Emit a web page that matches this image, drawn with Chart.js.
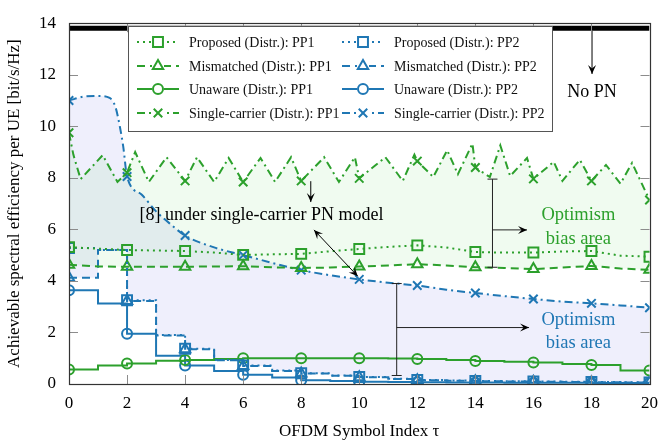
<!DOCTYPE html>
<html>
<head>
<meta charset="utf-8">
<script src="https://cdn.jsdelivr.net/npm/chart.js@4.4.1/dist/chart.umd.min.js"></script>
<style>
  html, body { margin: 0; padding: 0; background: #fff; }
</style>
</head>
<body>
<canvas id="se" width="667" height="446"></canvas>
<script>
// OFDM symbol index (integer grid shared by most curves)
const tau = [0, 1, 2, 3, 4, 5, 6, 7, 8, 9, 10, 11, 12, 13, 14, 15, 16, 17, 18, 19, 20];

const proposedPP1   = [5.31, 5.25, 5.2, 5.18, 5.16, 5.1, 5.01, 5.03, 5.05, 5.15, 5.24, 5.32, 5.38, 5.3, 5.12, 5.1, 5.1, 5.14, 5.16, 4.98, 4.94];
const mismatchedPP1 = [4.63, 4.56, 4.55, 4.55, 4.55, 4.56, 4.57, 4.53, 4.5, 4.52, 4.56, 4.6, 4.65, 4.6, 4.53, 4.5, 4.46, 4.52, 4.58, 4.48, 4.43];
const unawarePP1    = [0.56, 0.72, 0.8, 0.9, 0.93, 0.97, 1.0, 1.0, 1.0, 1.0, 1.0, 0.99, 0.97, 0.93, 0.89, 0.86, 0.83, 0.78, 0.74, 0.52, 0.52];

const proposedPP2   = [5.28, 5.2, 3.25, 1.9, 1.37, 0.93, 0.72, 0.52, 0.42, 0.33, 0.27, 0.2, 0.16, 0.14, 0.12, 0.11, 0.1, 0.09, 0.08, 0.07, 0.06];
const mismatchedPP2 = [4.12, 5.2, 3.22, 1.88, 1.35, 0.92, 0.7, 0.5, 0.41, 0.32, 0.26, 0.19, 0.15, 0.13, 0.11, 0.1, 0.09, 0.08, 0.07, 0.06, 0.05];
const unawarePP2    = [3.64, 3.12, 1.95, 1.1, 0.72, 0.5, 0.36, 0.25, 0.15, 0.12, 0.09, 0.08, 0.07, 0.06, 0.06, 0.05, 0.05, 0.05, 0.04, 0.04, 0.04];

// single-carrier curves (sampled finer)
const scTauPP1 = [0, 0.15, 0.4, 1.16, 1.67, 2, 2.28, 2.75, 3.36, 4, 4.41, 5.0, 5.5, 6, 6.6, 7.1, 7.65, 8, 8.79, 9.3, 9.85, 10, 10.9, 11.5, 11.9, 12, 12.55, 13.03, 13.4, 13.9, 14, 14.5, 14.86, 15.2, 15.78, 16, 16.7, 17.0, 17.6, 18, 18.5, 19.0, 19.4, 20];
const scPP1    = [9.75, 8.9, 7.95, 8.88, 7.84, 8.2, 9.0, 7.84, 8.8, 7.88, 8.8, 7.84, 8.77, 7.84, 8.77, 7.84, 8.8, 7.88, 8.8, 7.84, 8.8, 7.98, 8.8, 7.88, 8.9, 8.65, 8.03, 9.07, 8.14, 9.33, 8.4, 8.03, 9.26, 8.07, 8.77, 7.96, 8.62, 7.88, 8.7, 7.88, 8.5, 7.77, 8.58, 7.14];

const scTauPP2 = [0, 0.5, 1, 1.4, 1.6, 1.75, 1.87, 2, 2.5, 3, 3.5, 4, 5, 6, 7, 8, 9, 10, 11, 12, 13, 14, 15, 16, 17, 18, 19, 20];
const scPP2    = [11.0, 11.15, 11.18, 11.1, 10.75, 10.0, 9.2, 8.05, 7.35, 6.7, 6.2, 5.76, 5.3, 5.0, 4.7, 4.42, 4.22, 4.06, 3.93, 3.82, 3.66, 3.53, 3.41, 3.3, 3.2, 3.13, 3.05, 2.96];

const noPnTau = [0, 20];
const noPn    = [13.8, 13.8];

const xTickValues = [0, 2, 4, 6, 8, 10, 12, 14, 16, 18, 20];
const yTickValues = [0, 2, 4, 6, 8, 10, 12, 14];

const GREEN = '#2ca02c';
const BLUE = '#1f77b4';
const GREEN_FILL = 'rgba(40,200,40,0.07)';
const BLUE_FILL = 'rgba(80,80,220,0.09)';
const DOT = [2, 4], DASH = [8, 5], SOLID = [], DASHDOT = [8, 4, 2, 4];
const R = { rect: 7, circle: 5, triangle: 6, crossRot: 6 };
const SERIF = "'Liberation Serif', 'DejaVu Serif', serif";

function series(label, xs, ys, color, dash, style, col, row, extra) {
  return Object.assign({
    label: label,
    data: xs.map((x, i) => ({ x: x, y: ys[i] })),
    borderColor: color,
    borderWidth: 2,
    borderDash: dash,
    pointStyle: style,
    pointRadius: ctx => (ctx.raw && ctx.raw.x % 2 === 0) ? R[style] : 0,
    pointBorderColor: color,
    pointBackgroundColor: 'rgba(0,0,0,0)',
    pointBorderWidth: 2,
    fill: false,
    tension: 0,
    legendCol: col,
    legendRow: row
  }, extra || {});
}

const datasets = [
  series('Proposed (Distr.): PP1', tau, proposedPP1, GREEN, DOT, 'rect', 0, 0),
  series('Proposed (Distr.): PP2', tau, proposedPP2, BLUE, DOT, 'rect', 1, 0, { stepped: 'before' }),
  series('Mismatched (Distr.): PP1', tau, mismatchedPP1, GREEN, DASH, 'triangle', 0, 1),
  series('Mismatched (Distr.): PP2', tau, mismatchedPP2, BLUE, DASH, 'triangle', 1, 1, { stepped: 'before' }),
  series('Unaware (Distr.): PP1', tau, unawarePP1, GREEN, SOLID, 'circle', 0, 2, { stepped: 'before' }),
  series('Unaware (Distr.): PP2', tau, unawarePP2, BLUE, SOLID, 'circle', 1, 2, { stepped: 'before' }),
  series('Single-carrier (Distr.): PP1', scTauPP1, scPP1, GREEN, DASHDOT, 'crossRot', 0, 3,
    { fill: { target: 2, above: GREEN_FILL, below: GREEN_FILL } }),
  series('Single-carrier (Distr.): PP2', scTauPP2, scPP2, BLUE, DASHDOT, 'crossRot', 1, 3,
    { fill: { target: 3, above: BLUE_FILL, below: BLUE_FILL }, cubicInterpolationMode: 'monotone' }),
  {
    label: 'No PN',
    data: noPnTau.map((x, i) => ({ x: x, y: noPn[i] })),
    borderColor: '#000', borderWidth: 5, pointRadius: 0, fill: false
  }
];

function drawMarker(ctx, style, x, y, r) {
  ctx.beginPath();
  if (style === 'rect') {
    const s = r * Math.SQRT1_2;
    ctx.rect(x - s, y - s, 2 * s, 2 * s);
  } else if (style === 'circle') {
    ctx.arc(x, y, r, 0, Math.PI * 2);
  } else if (style === 'triangle') {
    let a = 0;
    ctx.moveTo(x + Math.sin(a) * r, y - Math.cos(a) * r);
    a += 2 * Math.PI / 3;
    ctx.lineTo(x + Math.sin(a) * r, y - Math.cos(a) * r);
    a += 2 * Math.PI / 3;
    ctx.lineTo(x + Math.sin(a) * r, y - Math.cos(a) * r);
    ctx.closePath();
  } else if (style === 'crossRot') {
    const d = r * Math.SQRT1_2;
    ctx.moveTo(x - d, y - d); ctx.lineTo(x + d, y + d);
    ctx.moveTo(x - d, y + d); ctx.lineTo(x + d, y - d);
  }
  ctx.stroke();
}

function arrow(ctx, x1, y1, x2, y2, both) {
  ctx.beginPath();
  ctx.moveTo(x1, y1);
  ctx.lineTo(x2, y2);
  ctx.stroke();
  head(ctx, x1, y1, x2, y2);
  if (both) head(ctx, x2, y2, x1, y1);
}

function head(ctx, x1, y1, x2, y2) {
  const a = Math.atan2(y2 - y1, x2 - x1);
  const L = 9, W = 4;
  ctx.save();
  ctx.translate(x2, y2);
  ctx.rotate(a);
  ctx.beginPath();
  ctx.moveTo(0, 0);
  ctx.lineTo(-L, -W);
  ctx.lineTo(-L * 0.6, 0);
  ctx.lineTo(-L, W);
  ctx.closePath();
  ctx.fill();
  ctx.restore();
}

const decorPlugin = {
  id: 'decor',
  afterDraw(chart) {
    const ctx = chart.ctx;
    const xs = chart.scales.x, ys = chart.scales.y;
    const X = v => xs.getPixelForValue(v), Y = v => ys.getPixelForValue(v);
    const { left, right, top, bottom } = chart.chartArea;

    ctx.save();
    // annotations
    ctx.strokeStyle = '#000';
    ctx.fillStyle = '#000';
    ctx.lineWidth = 1;
    arrow(ctx, X(18.02), Y(13.7), X(18.02), Y(12.03));
    ctx.font = '18px ' + SERIF;
    ctx.textAlign = 'center';
    ctx.textBaseline = 'middle';
    ctx.fillText('No PN', X(18.02), Y(11.33));

    ctx.font = '18px ' + SERIF;
    ctx.fillText('[8] under single-carrier PN model', X(6.63), Y(6.54));
    arrow(ctx, X(8.33), Y(7.87), X(8.33), Y(7.06));
    arrow(ctx, X(9.95), Y(4.18), X(8.44), Y(5.98), true);

    // green bracket
    ctx.strokeStyle = '#222';
    ctx.fillStyle = '#000';
    bracket(X(14.59), Y(7.95), Y(4.53));
    arrow(ctx, X(14.59), Y(5.98), X(15.78), Y(5.98));
    // blue bracket
    bracket(X(11.29), Y(3.9), Y(0.33));
    arrow(ctx, X(11.29), Y(2.19), X(15.85), Y(2.19));

    ctx.font = '18.5px ' + SERIF;
    ctx.fillStyle = GREEN;
    ctx.fillText('Optimism', X(17.55), Y(6.54));
    ctx.fillText('bias area', X(17.55), Y(5.61));
    ctx.fillStyle = BLUE;
    ctx.fillText('Optimism', X(17.55), Y(2.49));
    ctx.fillText('bias area', X(17.55), Y(1.6));

    function bracket(x, y1, y2) {
      ctx.beginPath();
      ctx.moveTo(x, y1); ctx.lineTo(x, y2);
      ctx.moveTo(x - 5, y1); ctx.lineTo(x + 5, y1);
      ctx.moveTo(x - 5, y2); ctx.lineTo(x + 5, y2);
      ctx.stroke();
    }

    // inner tick marks
    ctx.strokeStyle = '#8c8c8c';
    ctx.lineWidth = 1;
    ctx.beginPath();
    xTickValues.forEach(v => {
      const p = Math.round(X(v)) + 0.5;
      ctx.moveTo(p, bottom); ctx.lineTo(p, bottom - 9);
      ctx.moveTo(p, top); ctx.lineTo(p, top + 9);
    });
    yTickValues.forEach(v => {
      const p = Math.round(Y(v)) + 0.5;
      ctx.moveTo(left, p); ctx.lineTo(left + 9, p);
      ctx.moveTo(right, p); ctx.lineTo(right - 9, p);
    });
    ctx.stroke();

    // frame
    ctx.strokeStyle = '#333';
    ctx.lineWidth = 1.2;
    ctx.strokeRect(Math.round(left) + 0.5, Math.round(top) + 0.5, Math.round(right - left), Math.round(bottom - top));

    // legend
    const box = { x: 128.5, y: 26.5, w: 424, h: 105 };
    ctx.fillStyle = '#fff';
    ctx.fillRect(box.x, box.y, box.w, box.h);
    ctx.strokeStyle = '#555';
    ctx.lineWidth = 1;
    ctx.strokeRect(box.x, box.y, box.w, box.h);
    const colX = [137, 342];
    const rowY = [42, 66, 89, 113];
    ctx.font = '14px ' + SERIF;
    ctx.textAlign = 'left';
    ctx.textBaseline = 'middle';
    chart.data.datasets.forEach(ds => {
      if (ds.legendCol === undefined) return;
      const x0 = colX[ds.legendCol], y0 = rowY[ds.legendRow];
      ctx.strokeStyle = ds.borderColor;
      ctx.lineWidth = 2;
      ctx.setLineDash(ds.borderDash);
      ctx.beginPath();
      ctx.moveTo(x0, y0); ctx.lineTo(x0 + 42, y0);
      ctx.stroke();
      ctx.setLineDash([]);
      ctx.fillStyle = '#fff';
      ctx.fillRect(x0 + 15, y0 - 6, 12, 12);
      drawMarker(ctx, ds.pointStyle, x0 + 21, y0, R[ds.pointStyle]);
      ctx.fillStyle = '#111';
      ctx.fillText(ds.label, x0 + 52, y0 + 1);
    });
    ctx.restore();
  }
};

Chart.defaults.font.family = SERIF;
Chart.defaults.color = '#000';

new Chart(document.getElementById('se'), {
  type: 'line',
  data: { datasets: datasets },
  options: {
    responsive: false,
    animation: false,
    events: [],
    layout: { padding: { left: 0, right: 10, top: 7, bottom: 0 } },
    plugins: {
      legend: { display: false },
      tooltip: { enabled: false },
      filler: { drawTime: 'beforeDatasetsDraw' }
    },
    scales: {
      x: {
        type: 'linear',
        min: 0,
        max: 20,
        afterBuildTicks: s => { s.ticks = xTickValues.map(v => ({ value: v })); },
        afterFit: s => { s.height = 62; },
        grid: { display: false, drawTicks: false },
        border: { display: false },
        ticks: { padding: 9, maxRotation: 0, font: { size: 17 } },
        title: { display: true, text: 'OFDM Symbol Index τ', font: { size: 17 } }
      },
      y: {
        min: 0,
        max: 14,
        afterBuildTicks: s => { s.ticks = yTickValues.map(v => ({ value: v })); },
        afterFit: s => { s.width = 69; },
        grid: { display: false, drawTicks: false },
        border: { display: false },
        ticks: { padding: 13, font: { size: 17 } },
        title: { display: true, text: 'Achievable spectral efficiency per UE [bit/s/Hz]', font: { size: 17 } }
      }
    }
  },
  plugins: [decorPlugin]
});
</script>
</body>
</html>
